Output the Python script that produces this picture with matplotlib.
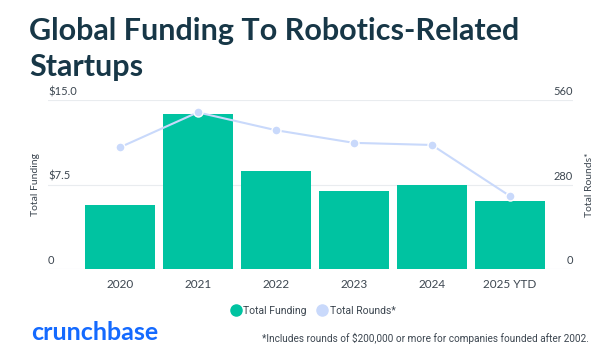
import matplotlib
matplotlib.use("Agg")
import matplotlib.pyplot as plt
from matplotlib.lines import Line2D

categories = ["2020", "2021", "2022", "2023", "2024", "2025 YTD"]
funding = [5.7, 13.8, 8.7, 6.9, 7.5, 6.0]
rounds = [403, 519, 460, 418, 411, 242]
left_ticks = [0, 7.5, 15.0]
left_labels = ["0", "$7.5", "$15.0"]
right_ticks = [0, 280, 560]
right_labels = ["0", "280", "560"]

BAR = "#00c3a1"
LINE = "#c9d9fb"
TITLE = "#173747"
TXT = "#3c4650"

plt.rcParams['font.family'] = ['Lato', 'DejaVu Sans']

fig = plt.figure(figsize=(6, 3.56), dpi=100)
W, H = 600, 356
ax_l, ax_r, ax_t, ax_b = 48, 573, 100, 269
ax = fig.add_axes([ax_l / W, 1 - ax_b / H, (ax_r - ax_l) / W, (ax_b - ax_t) / H])
x = list(range(len(categories)))
ax.bar(x, funding, width=0.9, color=BAR, zorder=2)
ax.set_ylim(0, 15.0)
ax.set_xlim(-0.92, 5.81)
for s in ax.spines.values():
    s.set_visible(False)
ax.set_yticks([])
ax.set_xticks(x)
ax.set_xticklabels(categories, fontsize=8.5, color=TXT)
ax.tick_params(axis='x', length=0, pad=7)
for t in left_ticks:
    ax.axhline(t, color="#e9ecef", lw=0.8, zorder=0)
for t, lab in zip(left_ticks, left_labels):
    ax.annotate(lab, (0, t), xycoords=('axes fraction', 'data'), xytext=(0, 2),
                textcoords='offset points', ha='left', va='bottom', fontsize=8, color=TXT)

ax2 = ax.twinx()
ax2.set_ylim(0, 560)
ax2.plot(x, rounds, color=LINE, lw=1.5, marker='o', ms=6.5, mfc=LINE, mec='white', mew=1, zorder=3)
for s in ax2.spines.values():
    s.set_visible(False)
ax2.set_yticks([])
for t, lab in zip(right_ticks, right_labels):
    ax2.annotate(lab, (1, t), xycoords=('axes fraction', 'data'), xytext=(0, 2),
                 textcoords='offset points', ha='right', va='bottom', fontsize=8, color=TXT)

fig.text(36 / W, 1 - 185 / H, "Total Funding", rotation=90, ha='center', va='center', fontsize=7.5, color=TXT)
fig.text(590 / W, 1 - 185 / H, "Total Rounds*", rotation=90, ha='center', va='center', fontsize=7.5, color=TXT)

fig.text(29 / W, 1 - 40 / H, "Global Funding To Robotics-Related", fontsize=22, fontweight='bold',
         color=TITLE, ha='left', va='baseline')
fig.text(29 / W, 1 - 76 / H, "Startups", fontsize=22, fontweight='bold',
         color=TITLE, ha='left', va='baseline')

handles = [Line2D([], [], ls='none', marker='o', ms=8, mfc=BAR, mec=BAR),
           Line2D([], [], ls='none', marker='o', ms=8, mfc=LINE, mec=LINE)]
fig.legend(handles, ["Total Funding", "Total Rounds*"], loc='center', bbox_to_anchor=(313 / W, 1 - 311 / H),
           ncol=2, frameon=False, handletextpad=0.2, columnspacing=1.0, labelcolor=TXT,
           handlelength=1.0, prop={'family': ['Roboto', 'DejaVu Sans'], 'size': 7.5})

fig.text(31 / W, 1 - 333 / H, "crunchbase", fontsize=18, fontweight='bold', color="#146aff",
         ha='left', va='center')
fig.text(589 / W, 1 - 338 / H, "*Includes rounds of $200,000 or more for companies founded after 2002.",
         fontsize=7.2, color=TXT, ha='right', va='center', family=['Roboto', 'DejaVu Sans'])

fig.savefig("out.png", dpi=100, facecolor='white')
